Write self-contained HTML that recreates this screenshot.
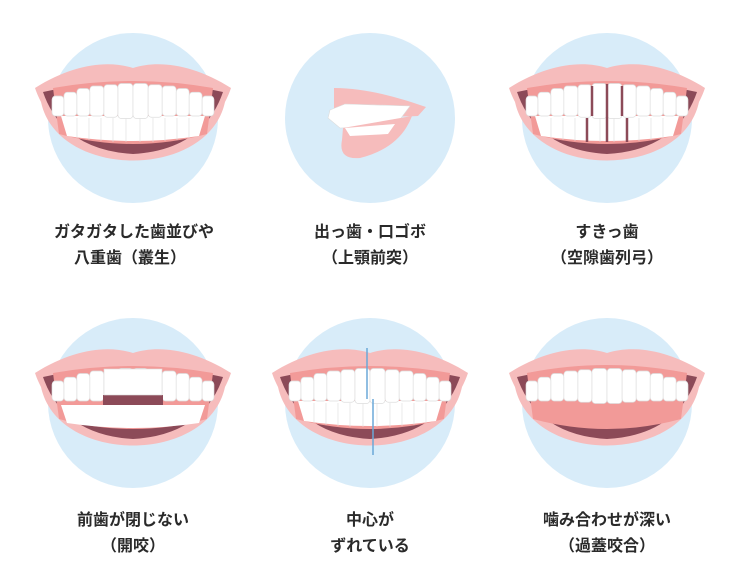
<!DOCTYPE html>
<html><head><meta charset="utf-8"><style>
body{margin:0;background:#fff;width:740px;height:586px;overflow:hidden}
svg{display:block}
text{font-family:"Liberation Sans","Noto Sans CJK JP",sans-serif;font-weight:bold;font-size:16px;fill:#2a2a2a;text-anchor:middle}
</style></head><body>
<svg width="740" height="586" viewBox="0 0 740 586">
<defs>
<g id="mouth">
  <path d="M-98,-12 C-60,-36 -25,-40 0,-32 C25,-40 60,-36 98,-12 C96,-6 94,-2 92,2 C75,80 -75,80 -92,2 C-94,-2 -96,-6 -98,-12Z" fill="#f6bcbc"/>
  <path d="M-90,-8 Q0,-28 90,-8 Q70,50 0,54 Q-70,50 -90,-8Z" fill="#8c4a58"/>
  <path d="M-80,-12 Q0,-26 80,-12 L74,34 Q0,54 -74,34Z" fill="#f29a98"/>
</g>
<g id="teethU0">
  <rect x="-14" y="-14" width="14" height="28" rx="3" fill="#fff" stroke="#ddd" stroke-width=".6"/>
  <rect x="0" y="-14" width="14" height="28" rx="3" fill="#fff" stroke="#ddd" stroke-width=".6"/>
  <rect x="-27" y="-13" width="13" height="26" rx="3" fill="#fff" stroke="#ddd" stroke-width=".6"/>
  <rect x="14" y="-13" width="13" height="26" rx="3" fill="#fff" stroke="#ddd" stroke-width=".6"/>
  <rect x="-40" y="-12" width="13" height="24" rx="3" fill="#fff" stroke="#ddd" stroke-width=".6"/>
  <rect x="27" y="-12" width="13" height="24" rx="3" fill="#fff" stroke="#ddd" stroke-width=".6"/>
  <rect x="-52" y="-10" width="12" height="22" rx="3" fill="#fff" stroke="#ddd" stroke-width=".6"/>
  <rect x="40" y="-10" width="12" height="22" rx="3" fill="#fff" stroke="#ddd" stroke-width=".6"/>
  <rect x="-64" y="-7" width="12" height="19" rx="3" fill="#fff" stroke="#ddd" stroke-width=".6"/>
  <rect x="52" y="-7" width="12" height="19" rx="3" fill="#fff" stroke="#ddd" stroke-width=".6"/>
  <rect x="-75" y="-4" width="11" height="16" rx="3" fill="#fff" stroke="#ddd" stroke-width=".6"/>
  <rect x="64" y="-4" width="11" height="16" rx="3" fill="#fff" stroke="#ddd" stroke-width=".6"/>
</g>
<g id="teethU"><use href="#teethU0" transform="translate(0,1) scale(1.08,1.25)"/></g>
<g id="teethL">
  <path d="M-72,16 L72,16 L66,36 Q0,46 -66,36Z" fill="#fff"/>
  <g stroke="#ddd" stroke-width=".6"><line x1="-56" y1="18" x2="-56" y2="38"/><line x1="-44" y1="18" x2="-44" y2="40"/><line x1="-32" y1="18" x2="-32" y2="41"/><line x1="-20" y1="18" x2="-20" y2="42"/><line x1="-7" y1="18" x2="-7" y2="42"/><line x1="7" y1="18" x2="7" y2="42"/><line x1="20" y1="18" x2="20" y2="42"/><line x1="32" y1="18" x2="32" y2="41"/><line x1="44" y1="18" x2="44" y2="40"/><line x1="56" y1="18" x2="56" y2="38"/></g>
</g>
</defs>
<g fill="#d8ecf9">
<circle cx="133" cy="118" r="85"/><circle cx="370" cy="118" r="85"/><circle cx="607" cy="118" r="85"/>
<circle cx="133" cy="403" r="85"/><circle cx="370" cy="403" r="85"/><circle cx="607" cy="403" r="85"/>
</g>
<!-- 1 -->
<g transform="translate(133,100)"><use href="#mouth"/><use href="#teethL"/><use href="#teethU"/></g>
<!-- 2 profile -->
<g>
<path d="M334,88 C370,88 405,100 426,107 L418,116 C395,118 360,112 334,112Z" fill="#f6bcbc"/>
<path d="M330,110 L345,104 L410,106 L395,126 L340,128 L328,118Z" fill="#fff" stroke="#ddd" stroke-width=".6"/>
<path d="M343,128 L412,116 Q400,148 360,158 Q338,160 342,140Z" fill="#f6bcbc"/>
<path d="M345,128 L395,124 L388,134 L350,136Z" fill="#fff"/>
</g>
<!-- 3 -->
<g transform="translate(607,100)"><use href="#mouth"/><use href="#teethL"/><use href="#teethU"/>
<g stroke="#8c4a58" stroke-width="2.5"><line x1="0" y1="-16" x2="0" y2="18"/><line x1="-15" y1="-14" x2="-15" y2="16"/><line x1="15" y1="-14" x2="15" y2="16"/><line x1="0" y1="18" x2="0" y2="42"/><line x1="-20" y1="18" x2="-20" y2="42"/><line x1="20" y1="18" x2="20" y2="42"/></g></g>
<!-- 4 open bite -->
<g transform="translate(133,385)"><use href="#mouth"/><use href="#teethU"/>
<rect x="-30" y="10" width="60" height="10" fill="#8c4a58"/>
<path d="M-72,20 L72,20 L66,38 Q0,48 -66,38Z" fill="#fff"/>
<rect x="-29" y="-16" width="58" height="26" fill="#fff" stroke="#ddd" stroke-width=".6"/></g>
<!-- 5 midline -->
<g transform="translate(370,385)"><use href="#mouth"/><use href="#teethL"/><use href="#teethU"/>
<line x1="-3" y1="-37" x2="-3" y2="14" stroke="#6aa8d8" stroke-width="1.5"/>
<line x1="3" y1="14" x2="3" y2="70" stroke="#6aa8d8" stroke-width="1.5"/></g>
<!-- 6 deep bite -->
<g transform="translate(607,385)"><use href="#mouth"/>
<path d="M-80,-12 Q0,-28 80,-12 L74,16 Q0,4 -74,16Z" fill="#f29a98"/>
<use href="#teethU"/></g>
<text x="134" y="237">ガタガタした歯並びや</text>
<text x="130" y="263">八重歯（叢生）</text>
<text x="370" y="237">出っ歯・口ゴボ</text>
<text x="370" y="263">（上顎前突）</text>
<text x="607" y="237">すきっ歯</text>
<text x="607" y="263">（空隙歯列弓）</text>
<text x="133" y="525">前歯が閉じない</text>
<text x="133" y="551">（開咬）</text>
<text x="370" y="525">中心が</text>
<text x="370" y="551">ずれている</text>
<text x="607" y="525">噛み合わせが深い</text>
<text x="607" y="551">（過蓋咬合）</text>
</svg>
</body></html>
